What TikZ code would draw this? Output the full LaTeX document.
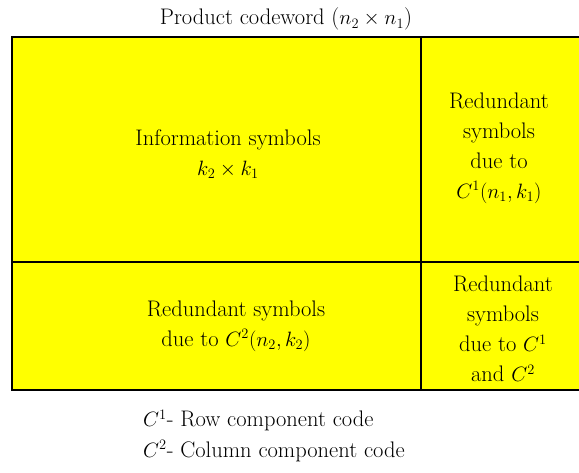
\documentclass[tikz,border=0pt]{standalone}
\definecolor{cellyellow}{RGB}{255,255,0}
\begin{document}
\begin{tikzpicture}[x=1pt,y=-1pt,
  txt/.style={align=center, font=\fontsize{22.5}{30}\selectfont, inner sep=0pt},
  frame/.style={line width=1.5pt, black},
  divider/.style={line width=1.2pt, black}]
\useasboundingbox (0,0) rectangle (579,473);
\fill[cellyellow] (12,37) rectangle (592,390);
\draw[frame] (592,37) -- (12,37) -- (12,390) -- (592,390);
\draw[divider] (421,37) -- (421,390);
\draw[divider] (12,262) -- (592,262);
\node[txt, anchor=base] (title) at (286,25) {Product codeword ($n_2\times n_1$)};
\node[txt] (info) at (228,154) {Information symbols\\$k_2\times k_1$};
\node[txt] (red1) at (499,148) {Redundant\\symbols\\due to\\$C^1(n_1,k_1)$};
\node[txt] (red2) at (236,326) {Redundant symbols\\due to $C^2(n_2,k_2)$};
\node[txt] (red12) at (503,329) {Redundant\\symbols\\due to $C^1$\\and $C^2$};
\node[txt, anchor=base west] (leg1) at (143,427) {$C^1$- Row component code};
\node[txt, anchor=base west] (leg2) at (143,457) {$C^2$- Column component code};
\end{tikzpicture}
\end{document}
